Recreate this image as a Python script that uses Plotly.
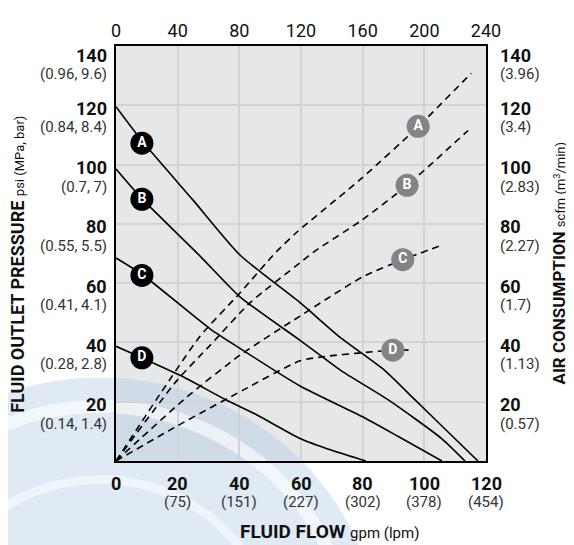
import plotly.graph_objects as go

FONT = "Liberation Sans Narrow, Arial Narrow, Roboto, sans-serif"

# ---- axis tick values / labels ----
flow_ticks = [0, 20, 40, 60, 80, 100, 120]
flow_lpm = ["", "(75)", "(151)", "(227)", "(302)", "(378)", "(454)"]
top_ticks = [0, 40, 80, 120, 160, 200, 240]
psi_ticks = [20, 40, 60, 80, 100, 120, 140]
psi_metric = ["(0.14, 1.4)", "(0.28, 2.8)", "(0.41, 4.1)", "(0.55, 5.5)",
              "(0.7, 7)", "(0.84, 8.4)", "(0.96, 9.6)"]
scfm_ticks = [20, 40, 60, 80, 100, 120, 140]
scfm_metric = ["(0.57)", "(1.13)", "(1.7)", "(2.27)", "(2.83)", "(3.4)", "(3.96)"]

# ---- fluid outlet pressure curves (psi vs gpm) ----
pA_x = [0, 8.4, 25, 40.2, 59.7, 72.6, 87.2, 97, 106.7, 117.4]
pA_y = [119.5, 108, 88, 69.5, 53.4, 41.8, 30.5, 20.6, 10.8, 0]
pB_x = [0, 8.4, 27.2, 40.2, 59.7, 73, 88.2, 105.7, 113.2]
pB_y = [98.5, 88.5, 69.2, 55.4, 40.7, 30.5, 20.7, 7.5, 0]
pC_x = [0, 8.4, 30.5, 40.2, 59.7, 79.8, 92, 105.7]
pC_y = [68.5, 63, 44.6, 38, 25.3, 15, 8, 0]
pD_x = [0, 8.4, 20.8, 35.9, 45.6, 59.7, 70, 81]
pD_y = [38.7, 34.8, 28.9, 20.5, 15.6, 7.6, 3.6, 0]

# ---- air consumption curves (scfm vs gpm) ----
aA_x = [0, 14.3, 27.2, 40.2, 52.2, 59, 79.8, 98, 115.2]
aA_y = [0, 22.6, 42, 56.7, 70.8, 77.5, 95.5, 112.8, 130.8]
aB_x = [0, 19.8, 30.5, 43.5, 59.7, 64.5, 79.8, 94.4, 114.2]
aB_y = [0, 27.2, 39, 53.4, 66.9, 70.8, 81.3, 93, 111.5]
aC_x = [0, 23, 40.2, 59.7, 79.8, 93, 105.7]
aC_y = [0, 21.6, 35.7, 48.9, 62, 67.9, 72.8]
aD_x = [0, 19.8, 41.2, 59.7, 68.8, 78.5, 89.8, 96]
aD_y = [0, 11.8, 23.9, 33.8, 35.4, 36.4, 37.4, 37.4]

# ---- curve labels ----
p_lab_names = ["A", "B", "C", "D"]
p_lab_x = [8.4, 8.4, 8.4, 8.4]
p_lab_y = [107.2, 88.3, 62.6, 34.8]
a_lab_x = [98, 94.4, 93, 89.8]
a_lab_y = [112.9, 93, 67.9, 37.4]

fig = go.Figure()

for xs, ys in [(pA_x, pA_y), (pB_x, pB_y), (pC_x, pC_y), (pD_x, pD_y)]:
    fig.add_trace(go.Scatter(x=xs, y=ys, mode="lines",
                             line=dict(color="black", width=1.6, shape="spline", smoothing=0.6),
                             showlegend=False, hoverinfo="skip"))
for xs, ys in [(aA_x, aA_y), (aB_x, aB_y), (aC_x, aC_y), (aD_x, aD_y)]:
    fig.add_trace(go.Scatter(x=xs, y=ys, mode="lines", yaxis="y2",
                             line=dict(color="black", width=1.6, dash="7px,5px",
                                       shape="spline", smoothing=0.6),
                             showlegend=False, hoverinfo="skip"))

fig.add_trace(go.Scatter(x=p_lab_x, y=p_lab_y, mode="markers+text", text=p_lab_names,
                         textposition="middle center",
                         textfont=dict(family=FONT, size=14, color="white", weight="bold"),
                         marker=dict(size=23, color="black"),
                         showlegend=False, hoverinfo="skip"))
fig.add_trace(go.Scatter(x=a_lab_x, y=a_lab_y, mode="markers+text", text=p_lab_names,
                         yaxis="y2", textposition="middle center",
                         textfont=dict(family=FONT, size=14, color="white", weight="bold"),
                         marker=dict(size=23, color="#848484"),
                         showlegend=False, hoverinfo="skip"))

ann = []
# bottom tick labels
for v, t in zip(flow_ticks, flow_lpm):
    ann.append(dict(x=v, y=0, xref="x", yref="paper", text=str(v), showarrow=False,
                    xanchor="center", yanchor="middle", yshift=-22,
                    font=dict(family=FONT, size=18, color="#111", weight="bold")))
    if t:
        ann.append(dict(x=v, y=0, xref="x", yref="paper", text=t, showarrow=False,
                        xanchor="center", yanchor="middle", yshift=-41,
                        font=dict(family=FONT, size=15, color="#333")))
# left tick labels
for v, t in zip(psi_ticks, psi_metric):
    off = -9 if v == 140 else -3
    ann.append(dict(x=0, y=v, xref="paper", yref="y", text=str(v), showarrow=False,
                    xanchor="right", yanchor="middle", xshift=-7, yshift=off,
                    font=dict(family=FONT, size=18, color="#111", weight="bold")))
    ann.append(dict(x=0, y=v, xref="paper", yref="y", text=t, showarrow=False,
                    xanchor="right", yanchor="middle", xshift=-7, yshift=off - 19,
                    font=dict(family=FONT, size=15, color="#333")))
# right tick labels
for v, t in zip(scfm_ticks, scfm_metric):
    off = -9 if v == 140 else -3
    ann.append(dict(x=1, y=v, xref="paper", yref="y2", text=str(v), showarrow=False,
                    xanchor="left", yanchor="middle", xshift=12, yshift=off,
                    font=dict(family=FONT, size=18, color="#111", weight="bold")))
    ann.append(dict(x=1, y=v, xref="paper", yref="y2", text=t, showarrow=False,
                    xanchor="left", yanchor="middle", xshift=12, yshift=off - 19,
                    font=dict(family=FONT, size=15, color="#333")))

# axis titles
ann.append(dict(x=-0.265, y=0.475, xref="paper", yref="paper", textangle=-90, showarrow=False,
                xanchor="center", yanchor="middle",
                text="<b>FLUID OUTLET PRESSURE</b> <span style='font-size:13px'>psi (MPa, bar)</span>",
                font=dict(family=FONT, size=18, color="#111")))
ann.append(dict(x=1.197, y=0.478, xref="paper", yref="paper", textangle=-90, showarrow=False,
                xanchor="center", yanchor="middle",
                text="<b>AIR CONSUMPTION</b> <span style='font-size:13px'>scfm (m<sup>3</sup>/min)</span>",
                font=dict(family=FONT, size=17, color="#111")))
ann.append(dict(x=0.576, y=-0.169, xref="paper", yref="paper", showarrow=False,
                xanchor="center", yanchor="middle",
                text="<b>FLUID FLOW</b> <span style='font-size:15px'>gpm (lpm)</span>",
                font=dict(family=FONT, size=19, color="#111")))

# faint background watermark (seal-like rings)
def px_circle(cx, cy, r):
    return dict(x0=(cx - r - 116) / 370, x1=(cx + r - 116) / 370,
                y0=(461 - (cy + r)) / 427, y1=(461 - (cy - r)) / 427)

shapes = [
    dict(type="circle", xref="paper", yref="paper", layer="below",
         line=dict(width=0), fillcolor="rgba(170,200,225,0.38)", **px_circle(100, 655, 280)),
    dict(type="circle", xref="paper", yref="paper", layer="below",
         line=dict(color="rgba(255,255,255,0.6)", width=13),
         fillcolor="rgba(0,0,0,0)", **px_circle(100, 655, 250)),
    dict(type="circle", xref="paper", yref="paper", layer="below",
         line=dict(color="rgba(255,255,255,0.5)", width=9),
         fillcolor="rgba(0,0,0,0)", **px_circle(100, 655, 175)),
]

fig.update_layout(
    width=574, height=545,
    margin=dict(l=108, r=96, t=26, b=92),
    paper_bgcolor="white", plot_bgcolor="#e6e7e9",
    font=dict(family=FONT, color="#111"),
    xaxis=dict(range=[0, 120], tickvals=flow_ticks, showticklabels=False,
               showgrid=True, gridcolor="#d2d3d6", gridwidth=1.5, zeroline=False,
               showline=True, linecolor="black", linewidth=1.6, mirror=True, ticks=""),
    xaxis2=dict(range=[0, 240], tickvals=top_ticks, overlaying="x", side="top",
                showgrid=False, zeroline=False, ticks="", ticklabelstandoff=4,
                tickfont=dict(family=FONT, size=18, color="#111")),
    yaxis=dict(range=[0, 140], tickvals=psi_ticks, showticklabels=False,
               showgrid=True, gridcolor="#d2d3d6", gridwidth=1.5, zeroline=False,
               showline=True, linecolor="black", linewidth=1.6, mirror=True, ticks=""),
    yaxis2=dict(range=[0, 140], overlaying="y", side="right", showticklabels=False,
                showgrid=False, zeroline=False),
    annotations=ann, shapes=shapes,
)
# invisible trace to activate the top axis
fig.add_trace(go.Scatter(x=[0, 240], y=[None, None], xaxis="x2", mode="lines",
                         showlegend=False, hoverinfo="skip"))

fig.write_html("out.html")
